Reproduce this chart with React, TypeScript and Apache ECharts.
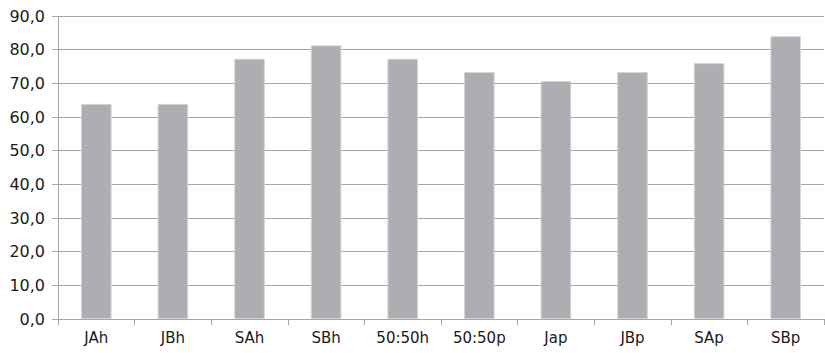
import React, { useEffect, useRef } from "react";
import * as echarts from "echarts";

const categories = ["JAh", "JBh", "SAh", "SBh", "50:50h", "50:50p", "Jap", "JBp", "SAp", "SBp"];
const values = [63.9, 63.9, 77.3, 81.3, 77.3, 73.4, 70.7, 73.4, 76.0, 84.0];

const FONT = "DejaVu Sans";

export default function App() {
  const ref = useRef<HTMLDivElement>(null);

  useEffect(() => {
    if (!ref.current) return;
    const chart = echarts.init(ref.current, undefined, { renderer: "svg" });
    chart.setOption({
      animation: false,
      backgroundColor: "#ffffff",
      grid: { left: 58, right: 1, top: 16, bottom: 34, containLabel: false },
      xAxis: {
        type: "category",
        data: categories,
        boundaryGap: true,
        axisLine: { show: true, lineStyle: { color: "#a6a6a6", width: 1 } },
        axisTick: { show: true, length: 6, alignWithLabel: false, lineStyle: { color: "#a6a6a6" } },
        axisLabel: { color: "#1a1a1a", fontFamily: FONT, fontSize: 15, margin: 11 },
      },
      yAxis: {
        type: "value",
        min: 0,
        max: 90,
        interval: 10,
        axisLine: { show: true, lineStyle: { color: "#a6a6a6", width: 1 } },
        axisTick: { show: true, length: 6, lineStyle: { color: "#a6a6a6" } },
        axisLabel: {
          color: "#1a1a1a",
          fontFamily: FONT,
          fontSize: 16,
          margin: 13,
          formatter: (v: number) => v.toFixed(1).replace(".", ","),
        },
        splitLine: { show: true, lineStyle: { color: "#a6a6a6", width: 1 } },
      },
      series: [
        {
          type: "bar",
          data: values,
          barWidth: "40%",
          itemStyle: { color: "#adaeb1", borderColor: "#d4d5d7", borderWidth: 1 },
        },
      ],
    });
    return () => chart.dispose();
  }, []);

  return (
    <div
      ref={ref}
      style={{ position: "absolute", left: 0, top: 0, width: 825, height: 353 }}
    />
  );
}
